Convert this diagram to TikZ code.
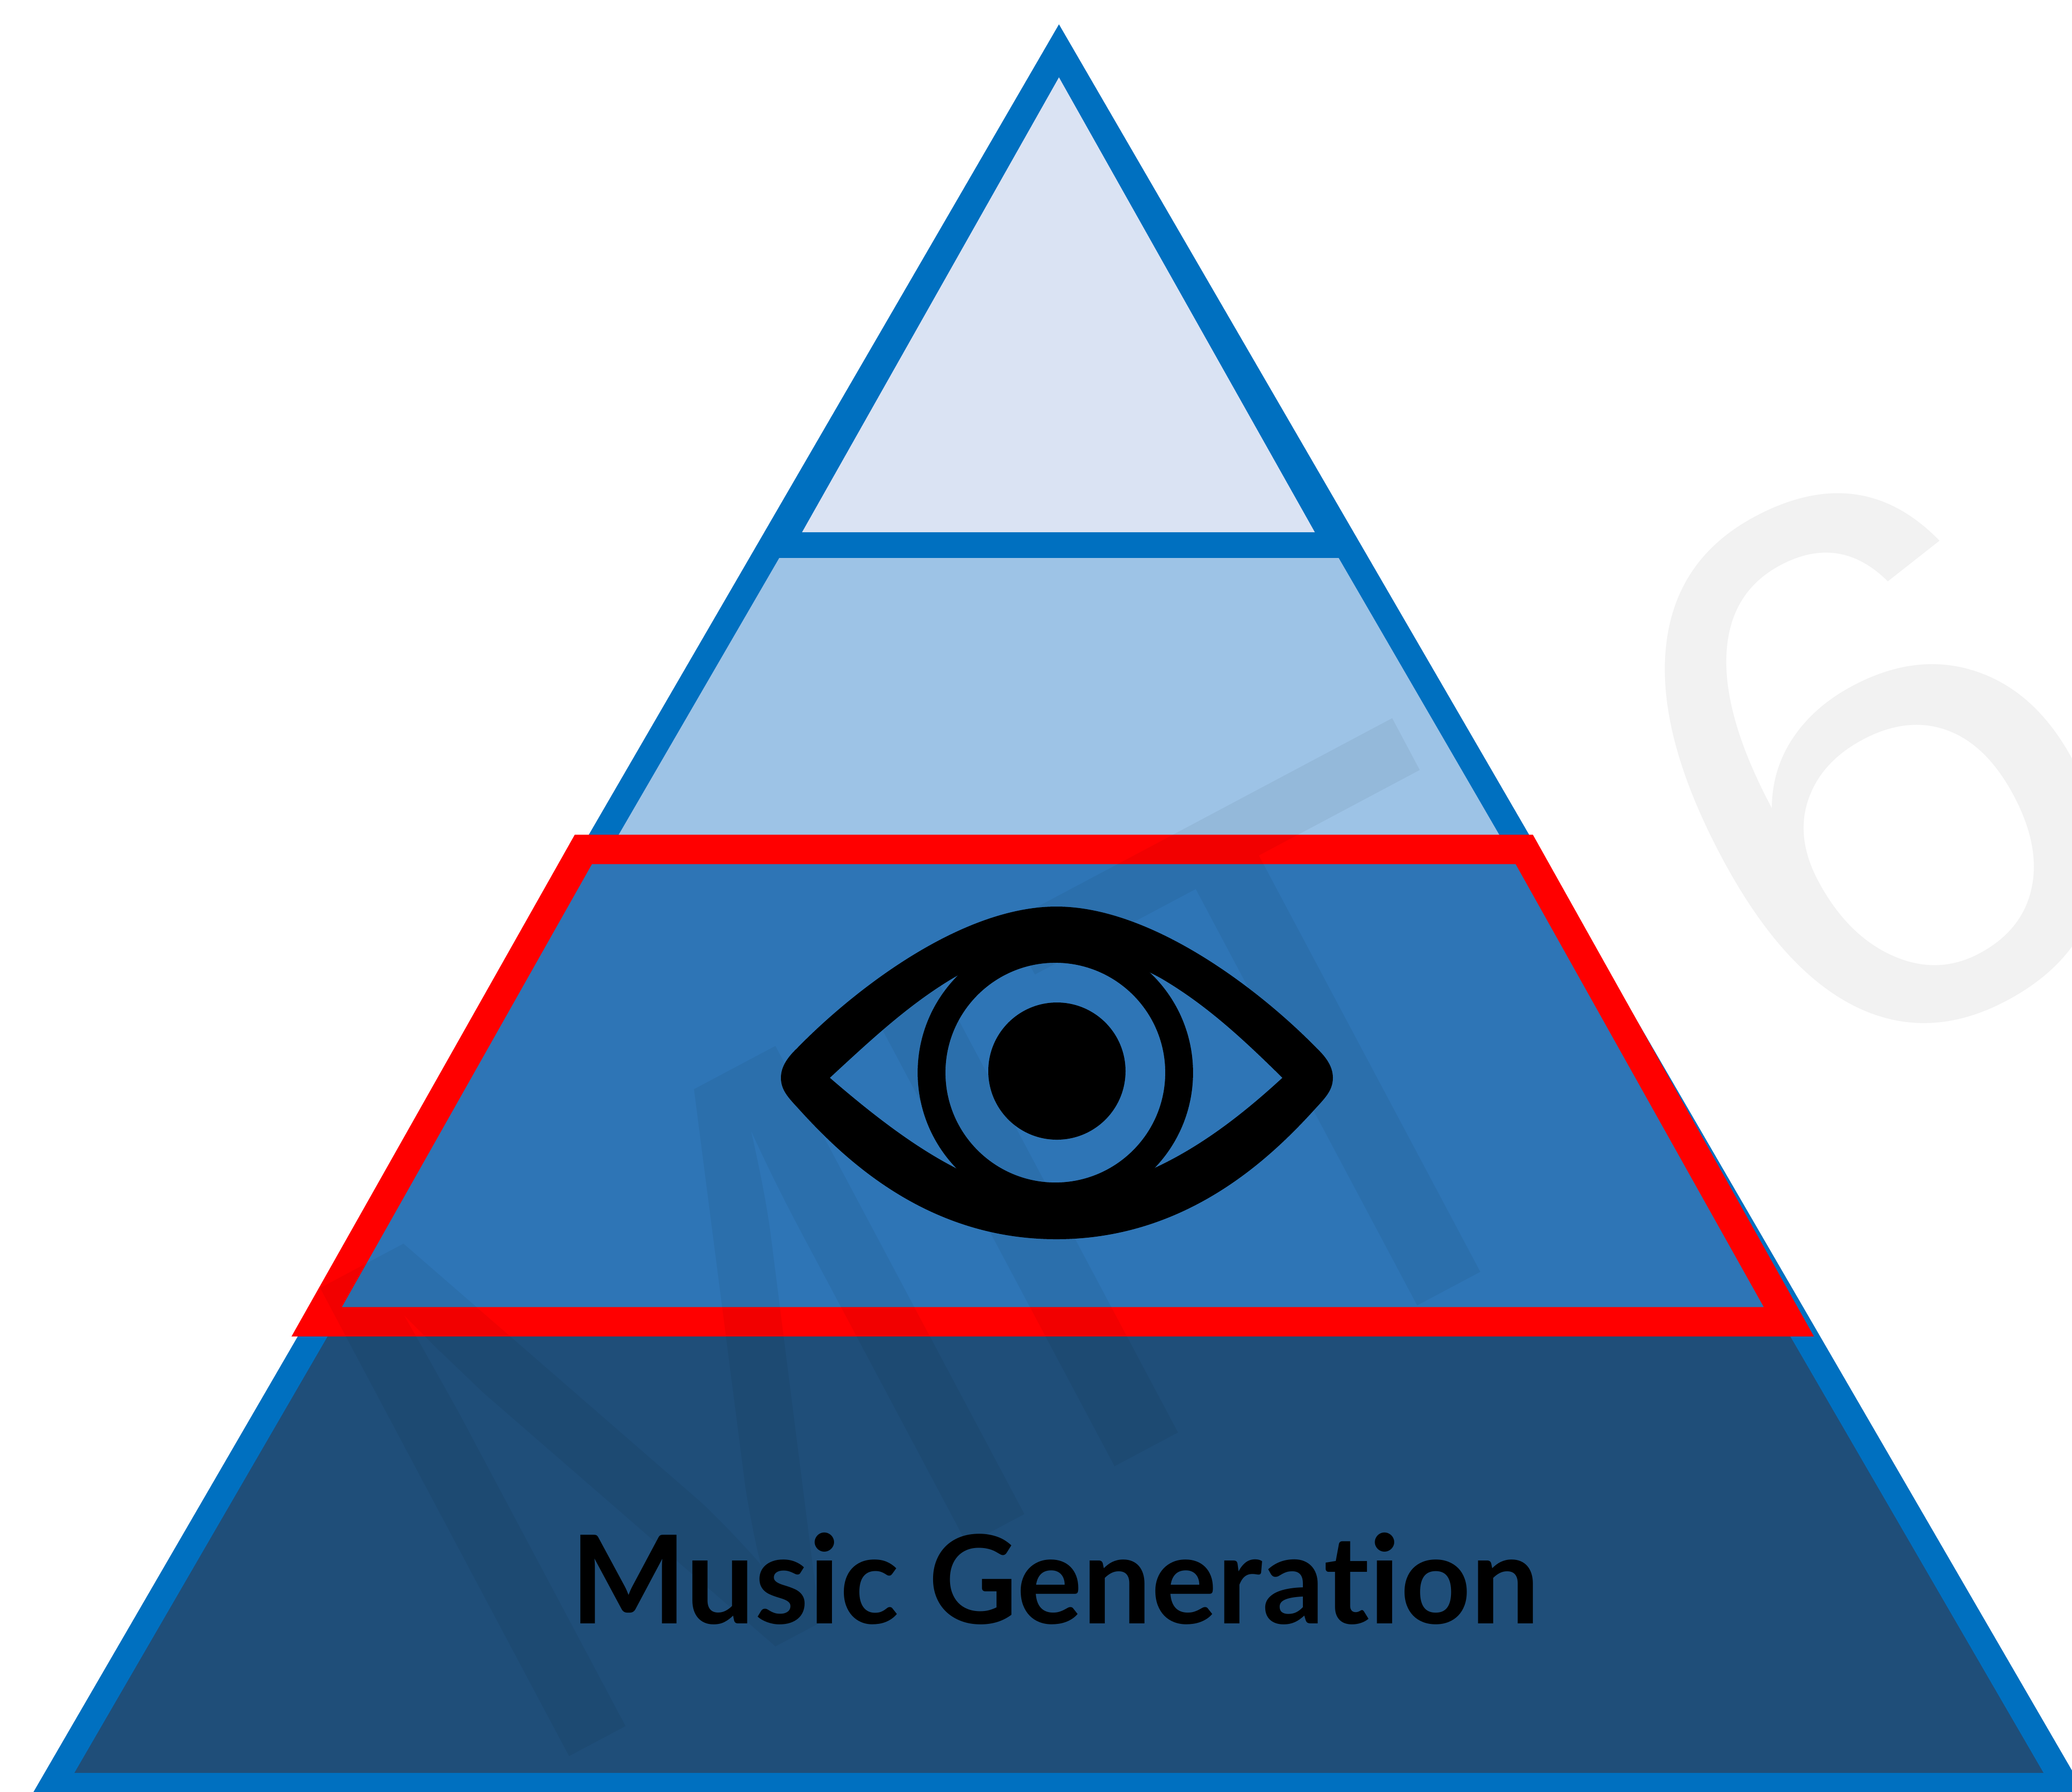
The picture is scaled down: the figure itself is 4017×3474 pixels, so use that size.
\documentclass[tikz,border=0pt]{standalone}
\usepackage{fontspec}
\setmainfont[Ligatures=NoCommon]{Lato}
\newfontfamily\wmfont{Liberation Sans}
\definecolor{tierA}{RGB}{218,227,243}
\definecolor{tierB}{RGB}{157,195,230}
\definecolor{tierC}{RGB}{46,117,182}
\definecolor{tierD}{RGB}{31,78,121}
\definecolor{edgeblue}{RGB}{0,112,192}
\definecolor{edgered}{RGB}{255,0,0}
\tikzset{
  bluecut/.style={draw=edgeblue,line width=14.2pt,miter limit=10,line join=miter},
  redcut/.style={draw=edgered,line width=16.2pt,line join=miter,miter limit=10},
  wmark/.style={font=\wmfont\fontsize{425}{425}\selectfont,text=black,text opacity=0.05,inner sep=0,rotate=28,anchor=base west},
  title/.style={font=\fontsize{67.6}{70}\selectfont\bfseries,text=black,inner sep=0,anchor=base}
}
\begin{document}
\begin{tikzpicture}[x=0.01cm,y=-0.01cm]
\useasboundingbox (0,0) rectangle (4017,3474);
\clip (0,0) rectangle (4017,3474);
\fill[white] (0,0) rectangle (4017,3474);
% tiers
\fill[tierB] (2053-0.58*960,1057) -- (2053+0.58*960,1057) -- (2053+0.58*1553,1650) -- (2053-0.58*1553,1650) -- cycle;
\fill[tierD] (2053-0.58*2483,2580) -- (2053+0.58*2483,2580) -- (2053+0.58*3366,3463) -- (2053-0.58*3366,3463) -- cycle;
% outline
\fill[edgeblue] (2053,97) -- (2053-0.58*960,1057) -- (2053+0.58*960,1057) -- cycle;
\draw[bluecut] (2053,97) -- (2053-0.58*3366,3463) -- (2053+0.58*3366,3463) -- cycle;
\draw[bluecut] (2053-0.58*960,1057) -- (2053+0.58*960,1057);
\fill[tierA] (2053,150) -- (1555,1032) -- (2549,1032) -- cycle;
% red tier
\filldraw[redcut,fill=tierC] (1131,1647) -- (2955,1647) -- (3468,2563) -- (614,2563) -- cycle;
% eye
\fill[black] (1514,2090) .. controls (1514,2070) and (1525,2052) .. (1545,2033) .. controls (1650,1925) and (1860,1758) .. (2048,1758) .. controls (2236,1758) and (2448,1925) .. (2553,2033) .. controls (2573,2052) and (2584,2070) .. (2584,2090) .. controls (2584,2115) and (2568,2130) .. (2548,2152) .. controls (2458,2251) and (2296,2403) .. (2048,2403) .. controls (1800,2403) and (1640,2251) .. (1550,2152) .. controls (1530,2130) and (1514,2115) .. (1514,2090) -- cycle;
\fill[tierC] (1609,2090) .. controls (1690,2015) and (1760,1950) .. (1844,1899) .. controls (1910,1860) and (1990,1840) .. (2048,1840) .. controls (2106,1840) and (2186,1860) .. (2254,1899) .. controls (2340,1950) and (2410,2015) .. (2486,2090) .. controls (2410,2160) and (2330,2222) .. (2240,2264) .. controls (2180,2300) and (2110,2320) .. (2048,2320) .. controls (1986,2320) and (1920,2300) .. (1851,2264) .. controls (1770,2222) and (1690,2160) .. (1609,2090) -- cycle;
\draw[black,line width=15.3pt] (2046,2080) circle[radius=240];
\fill[black] (2049,2077) circle[radius=133];
% watermark
\node[wmark] (watermark) at (995,3464) {M\kern-18pt IT\hspace{0.22em}6};
% label
\node[title] (label) at (2046,3148) {Music Generation};
\end{tikzpicture}
\end{document}
